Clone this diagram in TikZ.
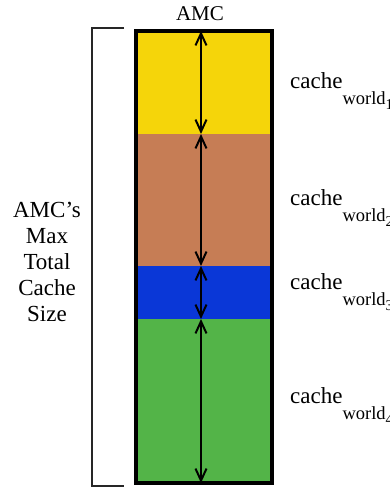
\documentclass[tikz,border=0pt]{standalone}
\usepackage{fontspec}
\setmainfont{Liberation Serif}
\usetikzlibrary{arrows.meta,positioning}

\definecolor{amcyellow}{RGB}{245,213,10}
\definecolor{amcbrown}{RGB}{198,125,85}
\definecolor{amcblue}{RGB}{10,55,215}
\definecolor{amcgreen}{RGB}{83,180,72}

\tikzset{
	band/.style={minimum width=136pt, inner sep=0pt, outer sep=0pt},
	span/.style={{Straight Barb[length=12pt,width=11pt]}-{Straight Barb[length=12pt,width=11pt]}, line width=2pt},
	worldlabel/.style={anchor=base west, inner sep=0pt, font=\fontsize{23}{23}\selectfont},
}
% cache name with its world as a lowered subscript
\newcommand{\cacheof}[1]{cache\raisebox{-16pt}{\fontsize{18.5}{18.5}\selectfont world\raisebox{-5pt}{\fontsize{15}{15}\selectfont #1}}}

\begin{document}
\begin{tikzpicture}[x=1pt, y=-1pt]
	\useasboundingbox (0,0) rectangle (390,491);
	% the cache is split into one band per world
	\node[band, fill=amcyellow, minimum height=103pt, anchor=north west] (w1) at (136,31) {};
	\node[band, fill=amcbrown, minimum height=132pt, below=0pt of w1] (w2) {};
	\node[band, fill=amcblue, minimum height=53pt, below=0pt of w2] (w3) {};
	\node[band, fill=amcgreen, minimum height=164pt, below=0pt of w3] (w4) {};
	\draw[line width=3.5pt] (w1.north west) rectangle (w4.south east);
	\foreach \w in {w1,w2,w3,w4}
		\draw[span] ([xshift=-3pt]\w.north) -- ([xshift=-3pt]\w.south);
	\node[anchor=base, inner sep=0pt, font=\fontsize{21}{21}\selectfont] (amc) at (200,20.5) {AMC};
	% labels on the right
	\node[worldlabel] (l1) at (290,88) {\cacheof{1}};
	\node[worldlabel] (l2) at (290,205) {\cacheof{2}};
	\node[worldlabel] (l3) at (290,289) {\cacheof{3}};
	\node[worldlabel] (l4) at (290,403) {\cacheof{4}};
	% bracket for the total size
	\coordinate (bt) at (124,28);
	\coordinate (bb) at (124,486);
	\draw[line width=1.8pt, black!85] (bt) -- ++(-32,0) |- (bb);
	\node[align=center, inner sep=0pt, font=\fontsize{23}{26}\selectfont] (total) at (47,262) {AMC’s\\Max\\Total\\Cache\\Size};
\end{tikzpicture}
\end{document}
